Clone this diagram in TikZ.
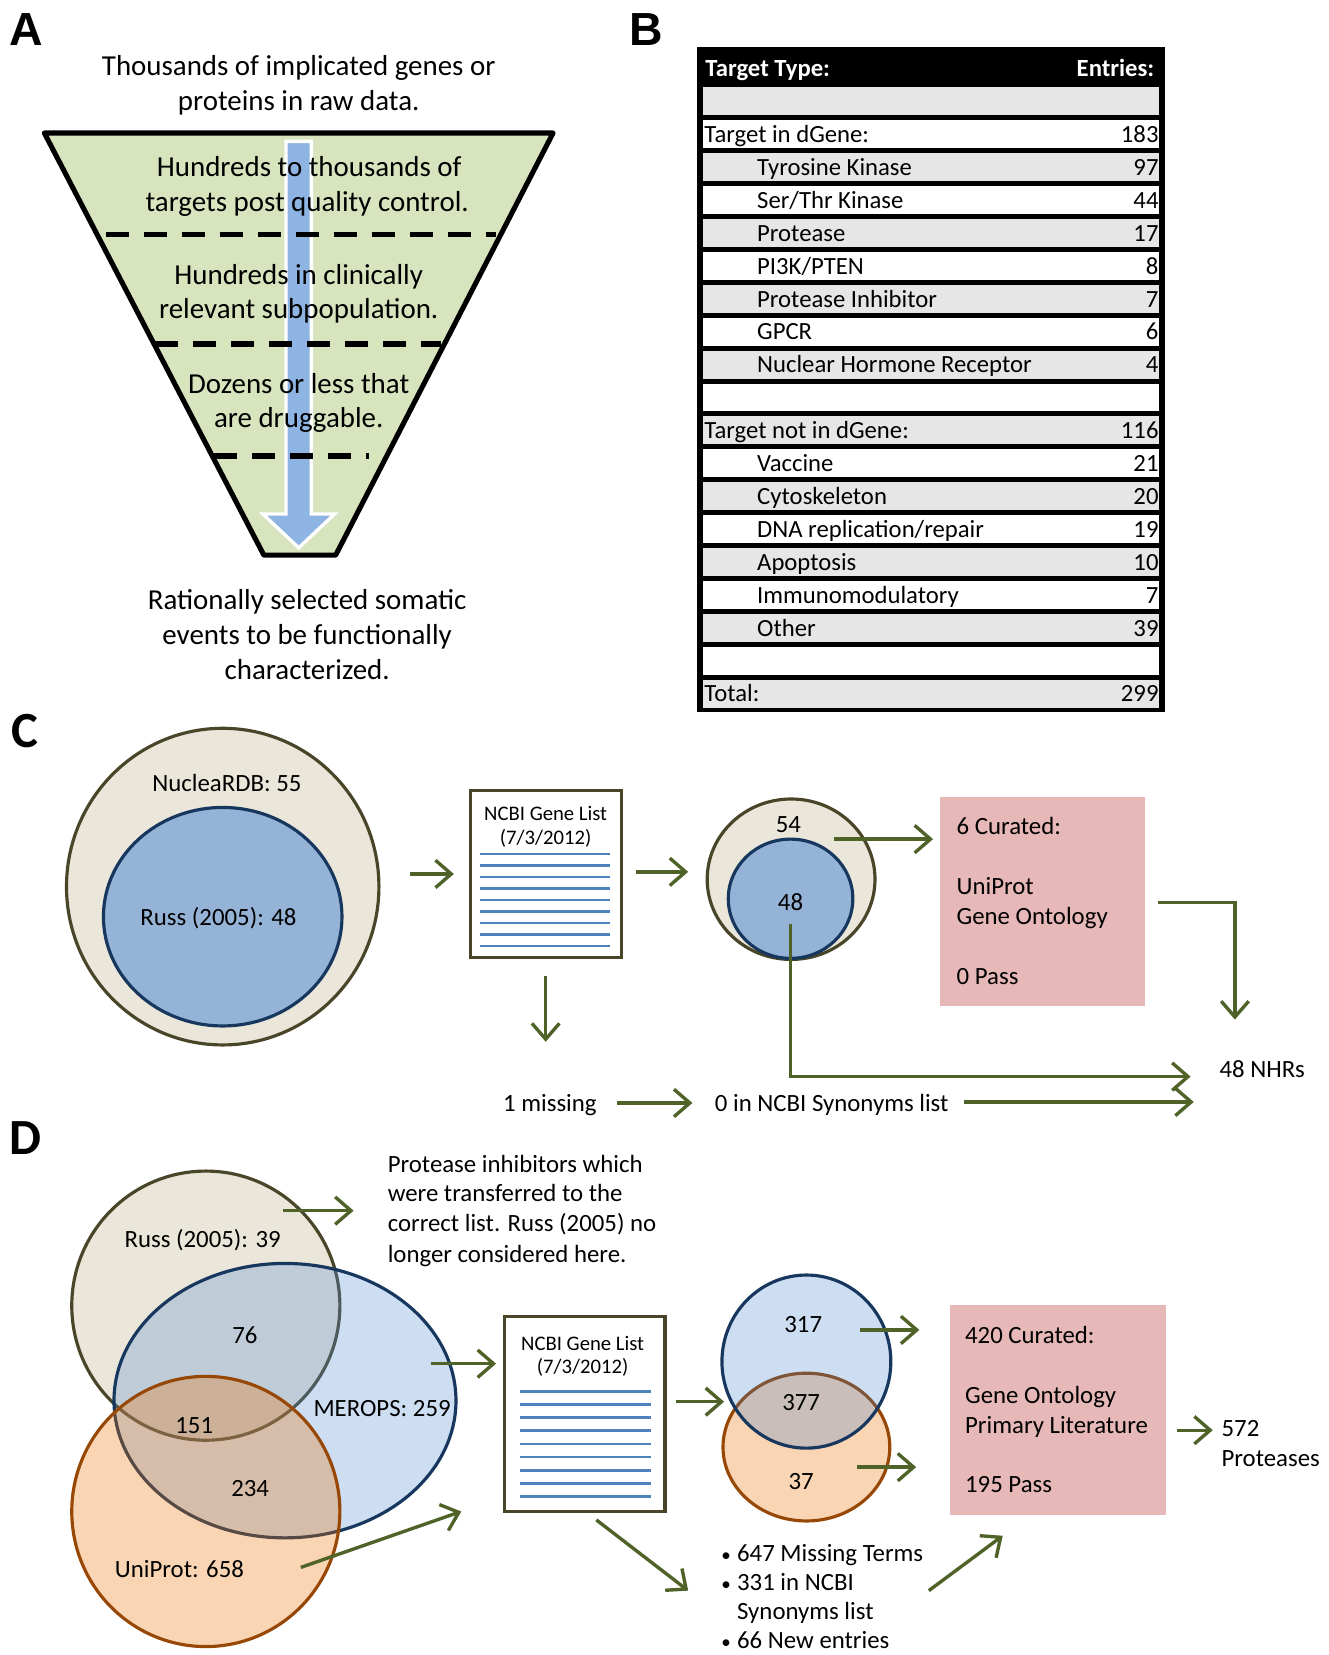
\documentclass[tikz,border=0pt]{standalone}
\usepackage{fontspec}
\setmainfont{Carlito}
\newfontfamily\labfont{Liberation Sans}
\usetikzlibrary{arrows.meta,shapes.geometric}
\definecolor{fgreen}{RGB}{215,228,189}
\definecolor{ablue}{RGB}{141,180,226}
\definecolor{arrgreen}{RGB}{79,98,40}
\definecolor{oliveline}{RGB}{73,69,41}
\definecolor{beige}{RGB}{234,230,218}
\definecolor{navy}{RGB}{23,55,94}
\definecolor{midblue}{RGB}{149,179,215}
\definecolor{lineblue}{RGB}{79,129,189}
\definecolor{pinkbox}{RGB}{230,184,183}
\definecolor{rowgray}{RGB}{230,230,230}
\definecolor{vblue}{RGB}{92,145,212}
\definecolor{vorange}{RGB}{235,115,5}
\definecolor{brownline}{RGB}{152,72,6}
\definecolor{peach}{RGB}{249,213,180}
\definecolor{sblue}{RGB}{60,124,204}
\begin{document}
\begin{tikzpicture}[x=0.5pt,y=-0.5pt,
  panellab/.style={font=\labfont\bfseries\fontsize{22}{24}\selectfont, inner sep=0},
  panellabc/.style={font=\bfseries\fontsize{24}{26}\selectfont, inner sep=0},
  atext/.style={font=\fontsize{13.7}{16.5}\selectfont, inner sep=0, anchor=mid, yshift=-1.8pt},
  ttext/.style={font=\fontsize{11.7}{14}\selectfont, inner sep=0, anchor=mid west, yshift=-1.5pt},
  thead/.style={font=\bfseries\fontsize{11.7}{14}\selectfont, text=white, inner sep=0, yshift=-1.5pt},
  tnum/.style={font=\fontsize{11.7}{14}\selectfont, inner sep=0, anchor=mid east, yshift=-1.5pt},
  ctext/.style={font=\fontsize{11.75}{14}\selectfont, inner sep=0, anchor=mid, yshift=-1.5pt},
  cltext/.style={font=\fontsize{11.75}{14}\selectfont, inner sep=0, anchor=mid west, yshift=-1.5pt},
  ntext/.style={font=\fontsize{9.8}{12}\selectfont, inner sep=0, anchor=mid, yshift=-1.2pt},
  garrow/.style={draw=arrgreen, line width=1.6pt, -{Straight Barb[length=7.5pt,width=13pt]}},
  vshape/.style={ellipse, inner sep=0, line width=1.5pt},
  docbox/.style={draw=oliveline, fill=white, line width=1.5pt, inner sep=0},
  listline/.style={draw=lineblue, line width=1.3pt},
  pbox/.style={fill=pinkbox, inner sep=0},
  dashline/.style={draw=black, line width=2.5pt, dash pattern=on 11pt off 7pt}
]
\useasboundingbox (0,0) rectangle (1259,1568);

% ---------------- Panel A ----------------
\node[panellab] (labA) at (25,28) {A};
\node[atext] (aT1) at (283,63) {Thousands of implicated genes or};
\node[atext] (aT2) at (283,96) {proteins in raw data.};
\draw[fill=fgreen, line width=2.4pt, line join=round] (42,126) -- (524,126) -- (318,526) -- (250,526) -- cycle;
\filldraw[fill=ablue, draw=white, line width=1.6pt, line join=miter] (271,134) -- (295,134) -- (295,487) -- (317,487) -- (283,519) -- (249,487) -- (271,487) -- cycle;
\draw[dashline] (100,222) -- (470,222);
\draw[dashline] (147,326) -- (418,326);
\draw[dashline] (203,432) -- (350,432);
\node[atext] (aL1a) at (293,159) {Hundreds to thousands of};
\node[atext] (aL1b) at (291,192) {targets post quality control.};
\node[atext] (aL2a) at (283,261) {Hundreds in clinically};
\node[atext] (aL2b) at (283,293) {relevant subpopulation.};
\node[atext] (aL3a) at (283,364) {Dozens or less that};
\node[atext] (aL3b) at (283,397) {are druggable.};
\node[atext] (aB1) at (291,569) {Rationally selected somatic};
\node[atext] (aB2) at (291,602) {events to be functionally};
\node[atext] (aB3) at (291,635) {characterized.};

% ---------------- Panel B ----------------
\node[panellab] (labB) at (612,28) {B};
\fill[black] (662,46) rectangle (1102,81);
\node[thead, anchor=mid west] (hType) at (668,65) {Target Type:};
\node[thead, anchor=mid east] (hEnt) at (1094,65) {Entries:};
\foreach \i/\lab/\num/\xx in {
  1/{}/{}/667,
  2/{Target in dGene:}/{183}/667,
  3/{Tyrosine Kinase}/{97}/717,
  4/{Ser/Thr Kinase}/{44}/717,
  5/{Protease}/{17}/717,
  6/{PI3K/PTEN}/{8}/717,
  7/{Protease Inhibitor}/{7}/717,
  8/{GPCR}/{6}/717,
  9/{Nuclear Hormone Receptor}/{4}/717,
  10/{}/{}/667,
  11/{Target not in dGene:}/{116}/667,
  12/{Vaccine}/{21}/717,
  13/{Cytoskeleton}/{20}/717,
  14/{DNA replication/repair}/{19}/717,
  15/{Apoptosis}/{10}/717,
  16/{Immunomodulatory}/{7}/717,
  17/{Other}/{39}/717,
  18/{}/{}/667,
  19/{Total:}/{299}/667}{
  \pgfmathsetmacro{\ytop}{80.5+(\i-1)*31.17}
  \pgfmathsetmacro{\ybot}{\ytop+31.17}
  \pgfmathsetmacro{\yc}{\ytop+15.6}
  \pgfmathparse{mod(\i,2)==1 ? "rowgray" : "white"}
  \edef\rowfill{\pgfmathresult}
  \filldraw[fill=\rowfill, draw=black, line width=1.2pt] (665,\ytop+1.2) rectangle (1099,\ybot-1.2);
  \node[ttext] (rowl\i) at (\xx,\yc) {\lab};
  \node[tnum] (rown\i) at (1098,\yc) {\num};
}
\draw[line width=1.8pt] (662,46) rectangle (1102,673);

% ---------------- Panel C ----------------
\node[panellabc] (labC) at (24,693) {C};
\node[vshape, draw=oliveline, fill=beige, minimum width=148pt, minimum height=150pt] (cOuter) at (211,840) {};
\node[vshape, draw=navy, fill=midblue, minimum width=113pt, minimum height=103.5pt] (cInner) at (211,868.5) {};
\node[ctext] (cNuc) at (215,742) {NucleaRDB: 55};
\node[ctext] (cRuss) at (207,869) {Russ (2005): 48};

\node[docbox, minimum width=71.5pt, minimum height=79pt] (cDoc) at (517.5,828) {};
\node[ntext] (cDocT1) at (517,770) {NCBI Gene List};
\node[ntext] (cDocT2) at (517,793) {(7/3/2012)};
\foreach \k in {0,...,8}{
  \draw[listline] (455,809+\k*10.9) -- (578,809+\k*10.9);
}

\node[vshape, draw=oliveline, fill=beige, minimum width=79.5pt, minimum height=76pt] (cSOuter) at (749.5,833) {};
\node[vshape, draw=navy, fill=midblue, minimum width=59pt, minimum height=56.5pt] (cSInner) at (749,851.5) {};
\node[ctext] (c54) at (747,781) {54};
\node[ctext] (c48) at (749,855) {48};

\node[pbox, minimum width=97pt, minimum height=99pt] (cCur) at (988,854) {};
\node[cltext] (cCur1) at (906,783) {6 Curated:};
\node[cltext] (cCur2) at (906,840) {UniProt};
\node[cltext] (cCur3) at (906,868) {Gene Ontology};
\node[cltext] (cCur4) at (906,925) {0 Pass};

\node[cltext] (cNHR) at (1155,1013) {48 NHRs};
\node[ctext] (cMiss) at (521,1045) {1 missing};
\node[ctext] (cSyn) at (788,1045) {0 in NCBI Synonyms list};

\coordinate (cA1) at (388,828); \coordinate (cA2) at (430,828);
\coordinate (cB1) at (603,826); \coordinate (cB2) at (652,826);
\coordinate (cC1) at (517,925); \coordinate (cC2) at (517,987);
\coordinate (cD1) at (790,795); \coordinate (cD2) at (884,795);
\coordinate (cE1) at (1097,855); \coordinate (cE2) at (1170,966);
\coordinate (cF1) at (749,875); \coordinate (cF2) at (1128,1020);
\coordinate (cG1) at (585,1045); \coordinate (cG2) at (656,1045);
\coordinate (cH1) at (913,1044); \coordinate (cH2) at (1131,1044);
\draw[garrow] (cA1) -- (cA2);
\draw[garrow] (cB1) -- (cB2);
\draw[garrow] (cC1) -- (cC2);
\draw[garrow] (cD1) -- (cD2);
\draw[garrow] (cE1) -| (cE2);
\draw[garrow] (cF1) |- (cF2);
\draw[garrow] (cG1) -- (cG2);
\draw[garrow] (cH1) -- (cH2);

% ---------------- Panel D ----------------
\node[panellabc] (labD) at (24,1078) {D};
\node[vshape, draw=oliveline, fill=beige, minimum width=127pt, minimum height=127.5pt] (dRuss) at (195,1237) {};
\node[vshape, draw=navy, fill=vblue, fill opacity=0.3, minimum width=162pt, minimum height=130pt] (dMer) at (270,1327) {};
\node[vshape, draw=brownline, fill=vorange, fill opacity=0.3, minimum width=127pt, minimum height=128pt] (dUni) at (195,1432) {};
\node[ctext] (dRussT) at (192,1174) {Russ (2005): 39};
\node[ctext] (d76) at (232,1265) {76};
\node[ctext] (d151) at (184,1350) {151};
\node[ctext] (dMerT) at (362,1334) {MEROPS: 259};
\node[ctext] (d234) at (237,1410) {234};
\node[ctext] (dUniT) at (170,1487) {UniProt: 658};

\node[cltext] (dPI1) at (367,1103) {Protease inhibitors which};
\node[cltext] (dPI2) at (367,1131) {were transferred to the};
\node[cltext] (dPI3) at (367,1159) {correct list. Russ (2005) no};
\node[cltext] (dPI4) at (367,1188) {longer considered here.};

\node[docbox, minimum width=76pt, minimum height=92.5pt] (dDoc) at (554,1339.5) {};
\node[ntext] (dDocT1) at (552,1272) {NCBI Gene List};
\node[ntext] (dDocT2) at (552,1294) {(7/3/2012)};
\foreach \k in {0,...,8}{
  \draw[listline] (493,1318+\k*12.5) -- (617,1318+\k*12.5);
}

\node[vshape, draw=brownline, fill=peach, minimum width=79pt, minimum height=70pt] (dSOr) at (764,1371) {};
\node[vshape, draw=navy, fill=sblue, fill opacity=0.25, minimum width=80pt, minimum height=82pt] (dSBl) at (764,1290) {};
\node[ctext] (d317) at (761,1255) {317};
\node[ctext] (d377) at (759,1329) {377};
\node[ctext] (d37) at (759,1403) {37};

\node[pbox, minimum width=102.5pt, minimum height=99.5pt] (dCur) at (1002.5,1335.5) {};
\node[cltext] (dCur1) at (914,1265) {420 Curated:};
\node[cltext] (dCur2) at (914,1322) {Gene Ontology};
\node[cltext] (dCur3) at (914,1350) {Primary Literature};
\node[cltext] (dCur4) at (914,1406) {195 Pass};

\node[cltext] (d572) at (1157,1353) {572};
\node[cltext] (dProt) at (1157,1382) {Proteases};

\node[ctext, font=\fontsize{9}{10}\selectfont] (dBul1) at (688,1472) {\textbullet};
\node[cltext] (dL1) at (698,1472) {647 Missing Terms};
\node[ctext, font=\fontsize{9}{10}\selectfont] (dBul2) at (688,1499.5) {\textbullet};
\node[cltext] (dL2) at (698,1499.5) {331 in NCBI};
\node[cltext] (dL3) at (698,1527) {Synonyms list};
\node[ctext, font=\fontsize{9}{10}\selectfont] (dBul4) at (688,1554) {\textbullet};
\node[cltext] (dL4) at (698,1554) {66 New entries};

\coordinate (dA1) at (268,1147); \coordinate (dA2) at (335,1147);
\coordinate (dB1) at (408,1292); \coordinate (dB2) at (470,1292);
\coordinate (dC1) at (285,1485); \coordinate (dC2) at (437,1432);
\coordinate (dD1) at (640,1328); \coordinate (dD2) at (686,1328);
\coordinate (dE1) at (565,1440); \coordinate (dE2) at (652,1507);
\coordinate (dF1) at (815,1260); \coordinate (dF2) at (871,1260);
\coordinate (dG1) at (812,1390); \coordinate (dG2) at (868,1390);
\coordinate (dH1) at (1115,1355); \coordinate (dH2) at (1149,1355);
\coordinate (dI1) at (880,1507); \coordinate (dI2) at (950,1455);
\draw[garrow] (dA1) -- (dA2);
\draw[garrow] (dB1) -- (dB2);
\draw[garrow] (dC1) -- (dC2);
\draw[garrow] (dD1) -- (dD2);
\draw[garrow] (dE1) -- (dE2);
\draw[garrow] (dF1) -- (dF2);
\draw[garrow] (dG1) -- (dG2);
\draw[garrow] (dH1) -- (dH2);
\draw[garrow] (dI1) -- (dI2);
\end{tikzpicture}
\end{document}
